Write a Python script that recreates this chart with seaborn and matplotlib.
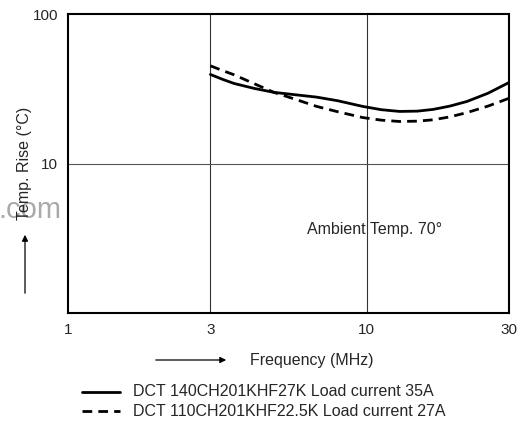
import numpy as np
import pandas as pd
import matplotlib
matplotlib.use("Agg")
import matplotlib.pyplot as plt
import seaborn as sns

# data
freq_a = [3.0, 3.3, 3.6, 4.2, 4.9, 5.8, 6.8, 8.0, 9.7, 11.2, 12.9, 14.8, 16.7, 19.0, 21.7, 25.5, 30.0]
temp_a = [39.4, 36.5, 34.3, 31.8, 29.9, 28.8, 27.8, 26.3, 24.1, 22.9, 22.3, 22.4, 23.0, 24.2, 26.0, 29.5, 34.8]
freq_b = [3.0, 3.3, 3.6, 4.2, 4.9, 5.8, 6.8, 8.0, 9.7, 11.2, 12.9, 14.8, 16.7, 19.0, 21.7, 25.5, 30.0]
temp_b = [45.0, 41.8, 39.2, 34.2, 29.9, 26.8, 24.1, 22.2, 20.3, 19.5, 19.1, 19.2, 19.6, 20.5, 21.9, 24.2, 27.3]
label_a = "DCT 140CH201KHF27K Load current 35A"
label_b = "DCT 110CH201KHF22.5K Load current 27A"
x_ticks = [1, 3, 10, 30]
y_ticks = [10, 100]

df = pd.concat([
    pd.DataFrame({"freq": freq_a, "temp": temp_a, "part": label_a}),
    pd.DataFrame({"freq": freq_b, "temp": temp_b, "part": label_b}),
])

sns.set_style("white")
plt.rcParams['font.family'] = ['Liberation Sans', 'DejaVu Sans']
FS = 11.5

fig = plt.figure(figsize=(5.23, 4.26), dpi=100)
ax = fig.add_axes([68 / 523, 1 - 313 / 426, 441 / 523, 299 / 426])

sns.lineplot(data=df, x="freq", y="temp", style="part",
             dashes={label_a: "", label_b: (3.5, 2.2)},
             color="black", linewidth=2, ax=ax, legend=False, sort=False)

ax.set_xscale("log")
ax.set_yscale("log")
ax.set_xlim(1, 30)
ax.set_ylim(1, 100)
ax.set_xticks(x_ticks)
ax.set_xticklabels([str(t) for t in x_ticks], fontsize=11)
ax.set_yticks(y_ticks)
ax.set_yticklabels([str(t) for t in y_ticks], fontsize=11)
ax.minorticks_off()
ax.tick_params(length=0, pad=7)
ax.set_xlabel("")
ax.set_ylabel("")
for x in [3, 10]:
    ax.axvline(x, color="#333333", lw=0.8, zorder=0)
ax.axhline(10, color="#555555", lw=0.8, zorder=0)
for s in ax.spines.values():
    s.set_color("black")
    s.set_linewidth(1.5)

ax.text((374.5 - 68) / 441, (313 - 230) / 299, "Ambient Temp. 70°",
        transform=ax.transAxes, ha="center", va="center", fontsize=FS)

# watermark fragment behind the y label
fig.text(-2 / 523, 1 - 218 / 426, ".com", color="#aaaaaa", fontsize=21,
         ha="left", va="baseline", zorder=0)

# axis titles with arrows
fig.text(25 / 523, 1 - 163 / 426, "Temp. Rise (°C)", rotation=90,
         ha="center", va="center", fontsize=FS)
fig.patches.append(matplotlib.patches.FancyArrowPatch(
    (25 / 523, 1 - 296 / 426), (25 / 523, 1 - 232 / 426),
    transform=fig.transFigure, arrowstyle="-|>", mutation_scale=9,
    color="black", lw=0.9))
fig.text(250 / 523, 1 - 360 / 426, "Frequency (MHz)", ha="left",
         va="center", fontsize=FS)
fig.patches.append(matplotlib.patches.FancyArrowPatch(
    (153 / 523, 1 - 360 / 426), (229 / 523, 1 - 360 / 426),
    transform=fig.transFigure, arrowstyle="-|>", mutation_scale=9,
    color="black", lw=0.9))

# legend drawn below
for i, (lab, ls) in enumerate([(label_a, "-"), (label_b, (0, (3.5, 2.2)))]):
    yy = 1 - (392 + 19 * i) / 426
    fig.add_artist(matplotlib.lines.Line2D([82 / 523, 120 / 523], [yy, yy],
                   color="black", lw=2, linestyle=ls))
    fig.text(133 / 523, yy, lab, ha="left", va="center", fontsize=FS)

fig.savefig("out.png", dpi=100)
